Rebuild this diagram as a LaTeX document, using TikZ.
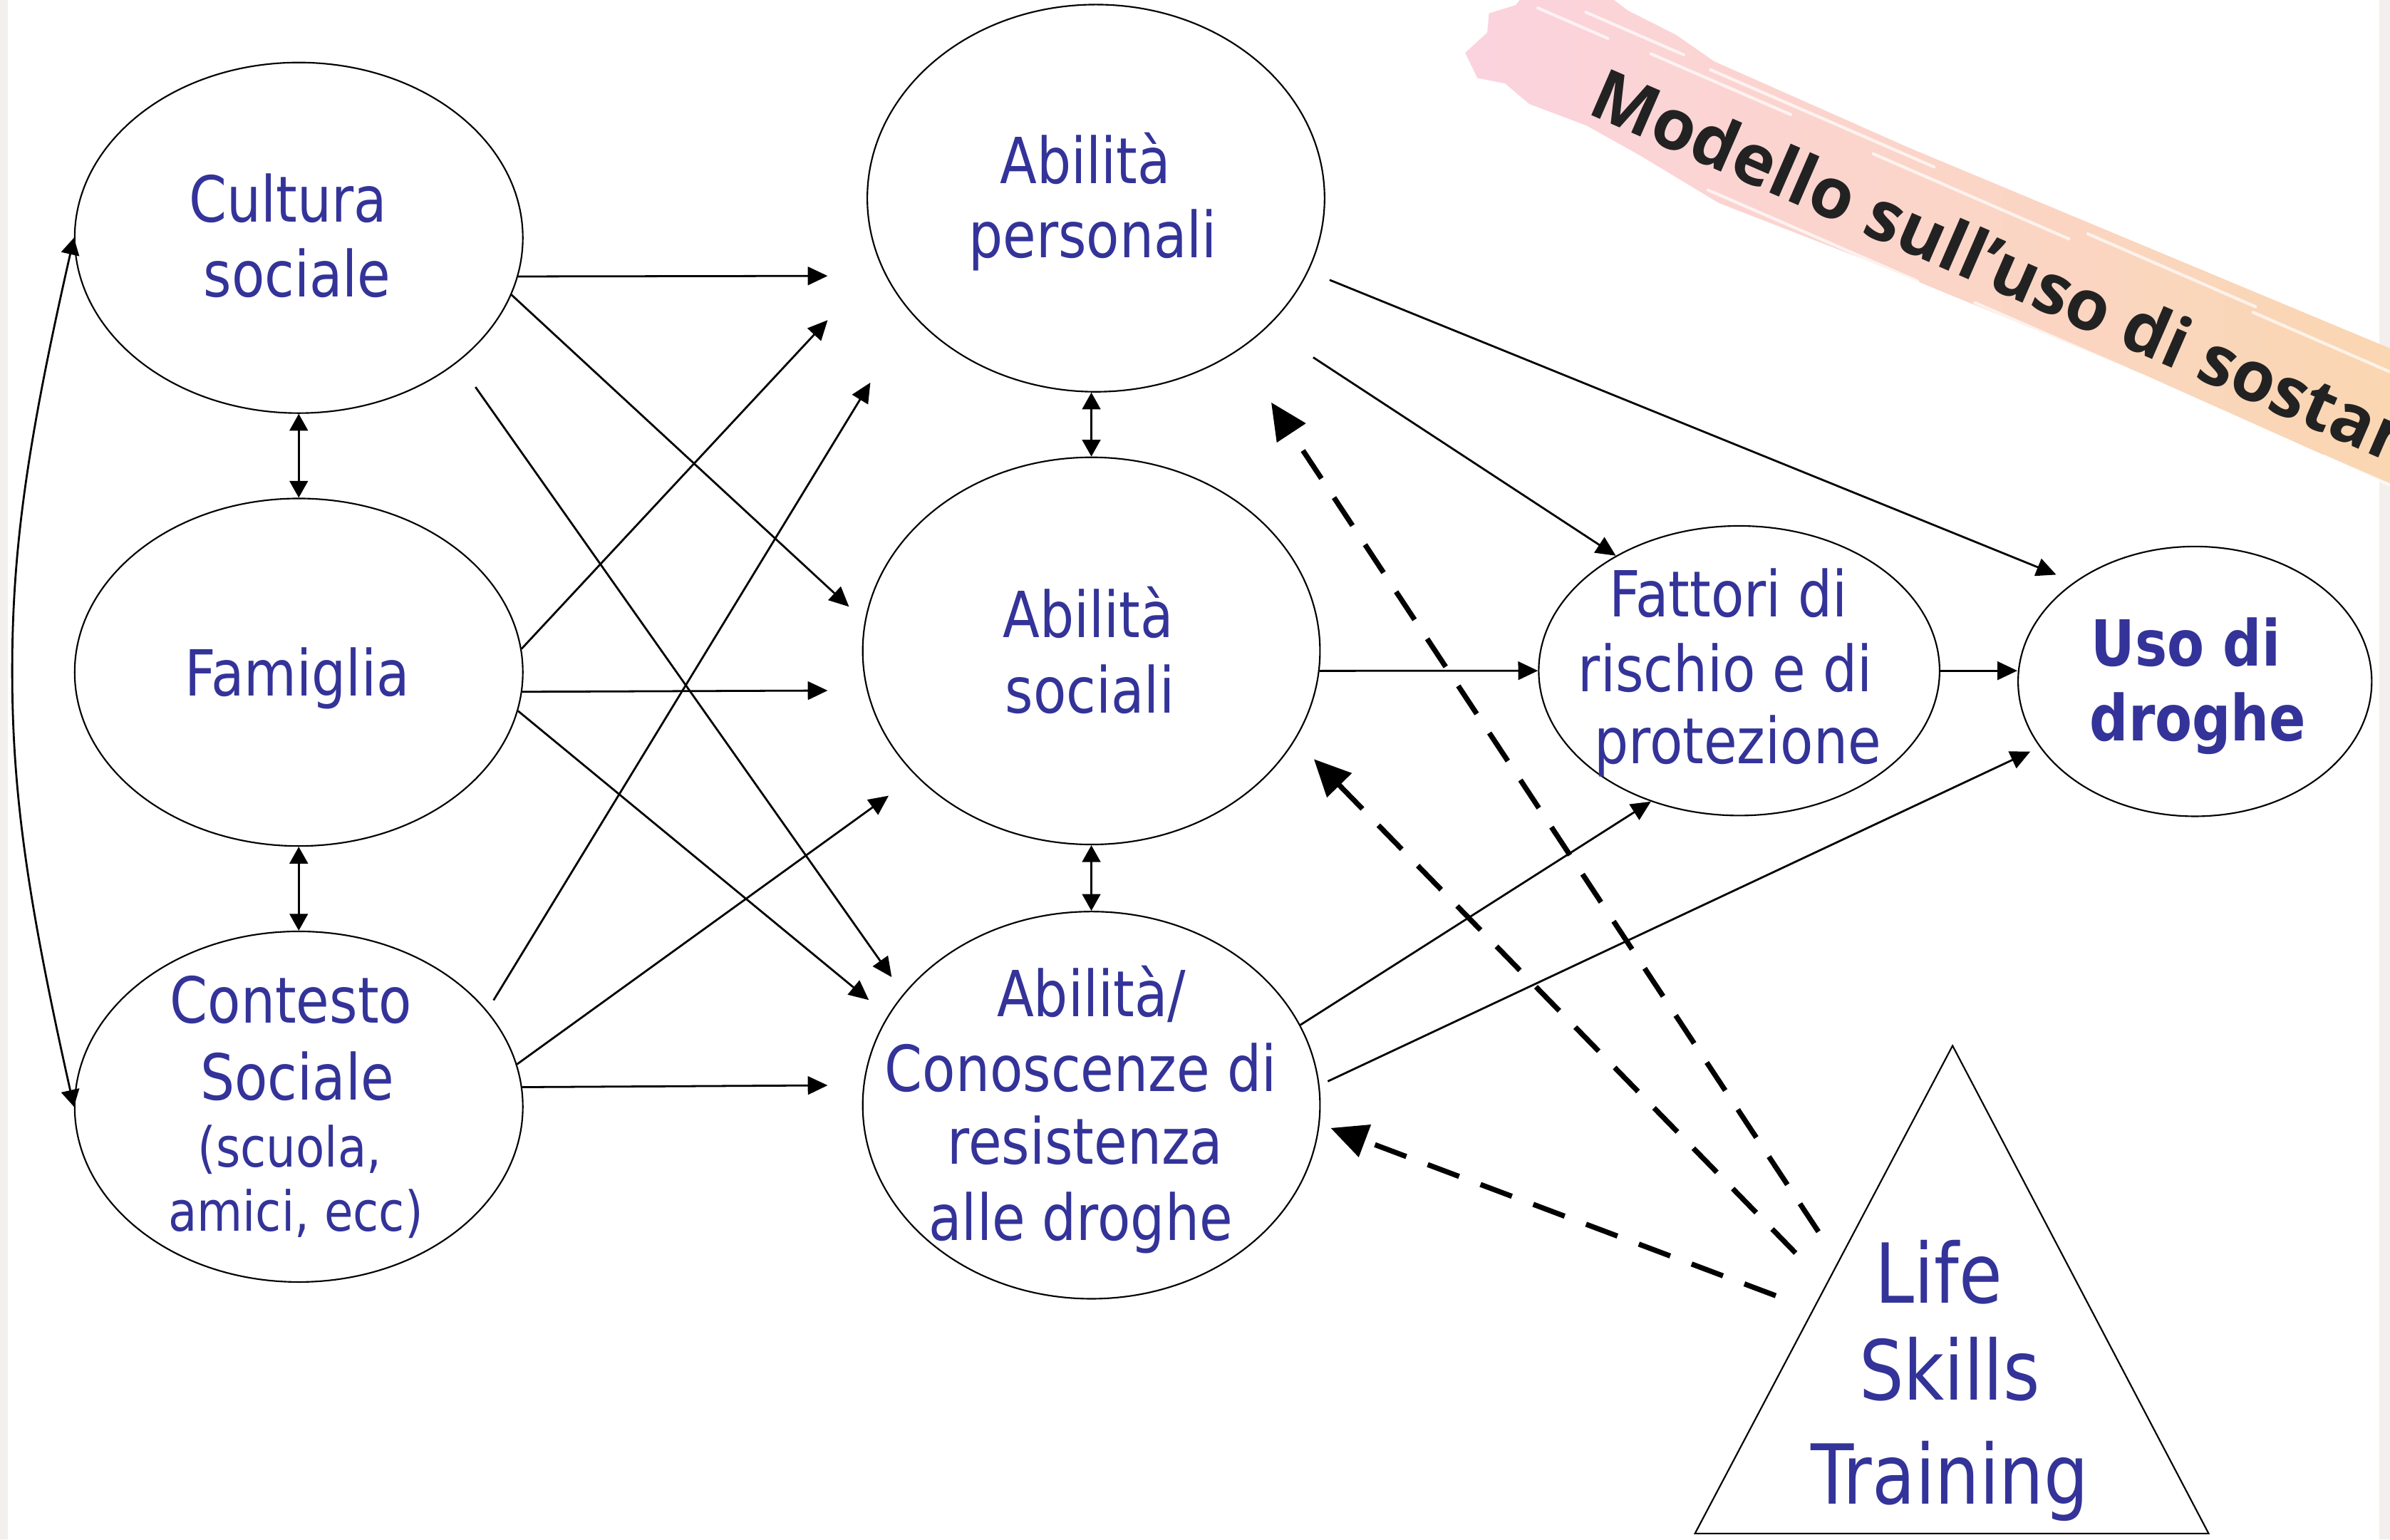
\documentclass[tikz,border=0pt]{standalone}
\usepackage{fontspec}
\usetikzlibrary{arrows.meta,shapes.geometric,calc}
\newfontfamily\tahfont[FakeStretch=0.85]{DejaVu Sans}
\newfontfamily\titlefont{Open Sans}
\definecolor{tblue}{HTML}{333399}
\definecolor{stripc}{HTML}{F3EFEC}
\definecolor{brpink}{HTML}{FBD3DF}
\definecolor{brpeach}{HTML}{FBD9C6}
\definecolor{brorange}{HTML}{FAD89E}
\definecolor{titlegray}{HTML}{222222}
\begin{document}
\begin{tikzpicture}[x=1pt,y=-1pt,
  oval/.style={draw=black, line width=1pt, ellipse, inner sep=0pt},
  txt/.style={text=tblue, inner sep=0pt, anchor=base, font=\tahfont\fontsize{41.7}{50}\selectfont},
  smalltxt/.style={txt, font=\tahfont\fontsize{36.2}{43}\selectfont},
  boldtxt/.style={txt, font=\tahfont\bfseries\fontsize{41.7}{50}\selectfont},
  bigtxt/.style={txt, font=\tahfont\fontsize{54.3}{65}\selectfont},
  conn/.style={line width=1.3pt, -{Triangle[length=13pt,width=12pt]}},
  dbl/.style={line width=1.3pt, {Triangle[length=11pt,width=12pt]}-{Triangle[length=11pt,width=12pt]}},
  dconn/.style={line width=3.4pt, dash pattern=on 22pt off 15pt, -{Triangle[length=24pt,width=22pt]}}
]
\useasboundingbox (0,0) rectangle (1568,1010);
\clip (0,0) rectangle (1568,1010);
\fill[white] (0,0) rectangle (1568,1010);
\fill[stripc] (0,0) rectangle (5,1010);
\fill[stripc] (1561,0) rectangle (1568,1010);

% brush stroke and title
\begin{scope}[shift={(1044,75)}, rotate=-23.5]
  \shade[left color=brpink, middle color=brpeach, right color=brorange]
    (-92,-4) -- (-84,-22) -- (-88,-34) -- (-74,-46) -- (-70,-62) -- (-50,-70) -- (-30,-78)
    -- (-5,-72) -- (30,-70) -- (60,-64) -- (200,-63)
    -- (400,-66) -- (600,-69) -- (820,-72) -- (820,16) -- (600,14) -- (400,12)
    -- (200,16) -- (100,20) -- (40,12) -- (0,8) -- (-40,10) -- (-60,4) -- (-78,8) -- cycle;
  \foreach \u/\v/\l in {-60/-50/50, -30/-60/70, 20/-52/100, 60/-58/160, 180/-50/140, 330/-58/120,
                        90/15/150, 280/13/110, 450/-54/100, 530/14/100, 650/-62/90}
    \draw[white, line width=2pt, opacity=0.7, line cap=round] (\u,\v) -- ++(\l,0);
\end{scope}
\node[font=\titlefont\bfseries\fontsize{46}{50}\selectfont, text=titlegray, rotate=-23.5,
      anchor=base west, inner sep=0pt] (title) at (1040,74) {Modello sull’uso di sostanze};

% ellipses
\node[oval, minimum width=294pt, minimum height=230pt] (cult) at (196,156) {};
\node[oval, minimum width=294pt, minimum height=228pt] (fam)  at (196,441) {};
\node[oval, minimum width=294pt, minimum height=230pt] (cont) at (196,726) {};
\node[oval, minimum width=300pt, minimum height=254pt] (pers) at (719,130) {};
\node[oval, minimum width=300pt, minimum height=254pt] (soc)  at (716,427) {};
\node[oval, minimum width=300pt, minimum height=254pt] (res)  at (716,725) {};
\node[oval, minimum width=263pt, minimum height=190pt] (fatt) at (1141,440) {};
\node[oval, minimum width=232pt, minimum height=177pt] (uso)  at (1440,447) {};

% texts
\node[txt] (cult-t1) at (189,145.7) {Cultura};
\node[txt] (cult-t2) at (195,194.8) {sociale};
\node[txt] (fam-t)   at (195,456.3) {Famiglia};
\node[txt] (cont-t1) at (191,671.3) {Contesto};
\node[txt] (cont-t2) at (195,721.4) {Sociale};
\node[smalltxt] (cont-t3) at (190,765.7) {(scuola,};
\node[smalltxt] (cont-t4) at (194,807.8) {amici, ecc)};
\node[txt] (pers-t1) at (712,120.6) {Abilità};
\node[txt] (pers-t2) at (717,169.1) {personali};
\node[txt] (soc-t1)  at (714,418.4) {Abilità};
\node[txt] (soc-t2)  at (715,467.5) {sociali};
\node[txt] (res-t1)  at (716,667) {Abilità/};
\node[txt] (res-t2)  at (709,716) {Conoscenze di};
\node[txt] (res-t3)  at (712,763.6) {resistenza};
\node[txt] (res-t4)  at (709,813.5) {alle droghe};
\node[txt] (fatt-t1) at (1134,404.4) {Fattori di};
\node[txt] (fatt-t2) at (1132,453.5) {rischio e di};
\node[txt] (fatt-t3) at (1140,501) {protezione};
\node[boldtxt] (uso-t1) at (1434,437) {Uso di};
\node[boldtxt] (uso-t2) at (1442,486) {droghe};

% Life Skills Training triangle
\coordinate (lsA) at (1281,686);
\coordinate (lsB) at (1449,1006);
\coordinate (lsC) at (1112,1006);
\draw[line width=1pt, line join=miter] (lsA) -- (lsB) -- (lsC) -- cycle;
\node[bigtxt] (lst-t1) at (1272,855) {Life};
\node[bigtxt] (lst-t2) at (1279,918.5) {Skills};
\node[bigtxt] (lst-t3) at (1279,986.6) {Training};

% arrow end points
\coordinate (tP1) at (543,181);
\coordinate (tS1) at (557,398);
\coordinate (tR1) at (585,641);
\coordinate (tP2) at (543,210);
\coordinate (tS2) at (543,453);
\coordinate (tR2) at (570,656);
\coordinate (tP3) at (571,251);
\coordinate (tS3) at (583,522);
\coordinate (tR3) at (543,712);
\coordinate (tU1) at (1349,377);
\coordinate (tU2) at (1332,493);
\coordinate (dS1) at (1193,808);
\coordinate (dS2) at (1178,822);
\coordinate (dS3) at (1165,850);
\coordinate (tD1) at (834,264);
\coordinate (tD2) at (862,498);
\coordinate (tD3) at (873,740);

% bidirectional links
\draw[dbl] (cult.west) .. controls (18,290) and (8,360) .. (8,440) .. controls (8,520) and (18,590) .. (cont.west);
\draw[dbl] (cult.south) -- (fam.north);
\draw[dbl] (fam.south) -- (cont.north);
\draw[dbl] (soc.north |- pers.south) -- (soc.north);
\draw[dbl] (soc.south) -- (res.north);

% left to middle
\draw[conn] (cult.-10) -- (tP1);
\draw[conn] (cult.-15) -- (tS1);
\draw[conn, shorten <=20pt] (cult.-38) -- (tR1);
\draw[conn] (fam.6) -- (tP2);
\draw[conn] (fam.-5) -- (tS2);
\draw[conn] (fam.-10) -- (tR2);
\draw[conn, shorten <=8pt] (cont.27) -- (tP3);
\draw[conn] (cont.11) -- (tS3);
\draw[conn] (cont.5.4) -- (tR3);

% middle to right
\draw[conn, shorten <=15pt] (pers.-19) -- (tU1);
\draw[conn, shorten <=36pt] (pers.-37) -- (fatt.137);
\draw[conn] (soc.-5) -- (fatt.west);
\draw[conn] (fatt.east) -- (fatt.east -| uso.west);
\draw[conn] (res.21) -- (fatt.236);
\draw[conn, shorten <=6pt] (res.5) -- (tU2);

% dashed from Life Skills Training
\draw[dconn] (dS1) -- (tD1);
\draw[dconn] (dS2) -- (tD2);
\draw[dconn] (dS3) -- (tD3);
\end{tikzpicture}
\end{document}
